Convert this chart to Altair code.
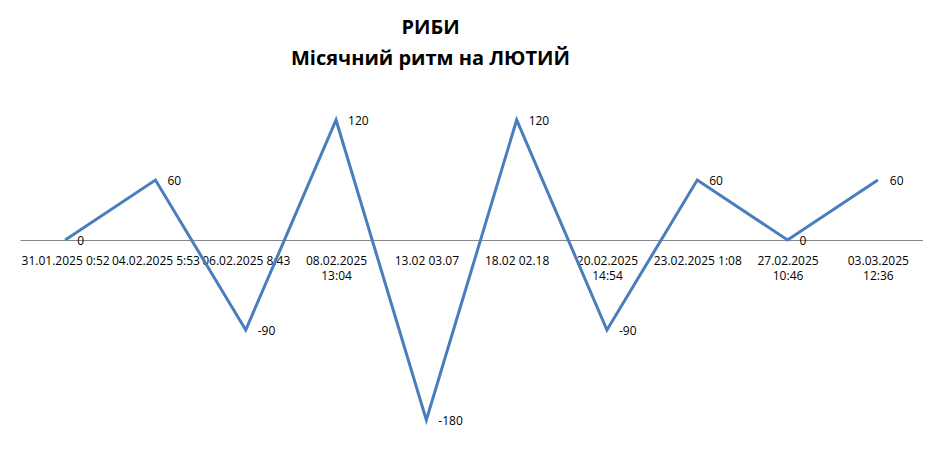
import altair as alt
import pandas as pd

categories = [
    "31.01.2025 0:52",
    "04.02.2025 5:53",
    "06.02.2025 8:43",
    "08.02.2025\n13:04",
    "13.02 03.07",
    "18.02 02.18",
    "20.02.2025\n14:54",
    "23.02.2025 1:08",
    "27.02.2025\n10:46",
    "03.03.2025\n12:36",
]
values = [0, 60, -90, 120, -180, 120, -90, 60, 0, 60]
title_lines = ["РИБИ", "Місячний ритм на ЛЮТИЙ"]

df = pd.DataFrame({
    "cat": categories,
    "val": values,
    "lab": [str(v) for v in values],
    "order": list(range(len(values))),
})

FONT = "Open Sans"

x_enc = alt.X(
    "cat:O",
    sort=categories,
    title=None,
    scale=alt.Scale(padding=0.5),
    axis=alt.Axis(
        orient="bottom",
        offset=-200,
        ticks=False,
        domainColor="#868686",
        domainWidth=1,
        labelExpr="split(datum.value, '\\n')",
        labelAngle=0,
        labelOverlap=False,
        labelFont=FONT,
        labelFontSize=12,
        labelColor="#000000",
        labelPadding=15,
        labelLineHeight=15,
        labelLimit=300,
        grid=False,
    ),
)
y_enc = alt.Y("val:Q", axis=None, scale=alt.Scale(domain=[-200, 160], nice=False, zero=False))

line = alt.Chart(df).mark_line(color="#4A7EBB", strokeWidth=3).encode(x=x_enc, y=y_enc, order="order:Q")
text = alt.Chart(df).mark_text(
    align="left", baseline="middle", dx=12, dy=1, font=FONT, fontSize=12, color="#000000"
).encode(x=alt.X("cat:O", sort=categories), y="val:Q", text="lab:N")

chart = (
    alt.layer(line, text)
    .properties(
        width=903,
        height=360,
        padding={"left": 12, "top": 10, "right": 0, "bottom": 0},
        title=alt.TitleParams(
            title_lines,
            font=FONT,
            fontSize=20,
            fontWeight="bold",
            color="#000000",
            lineHeight=31,
            anchor="middle",
            dx=-41,
            offset=11,
        ),
    )
    .configure_view(stroke=None)
)

chart.save("out.html", embed_options={"renderer": "svg", "actions": False})
